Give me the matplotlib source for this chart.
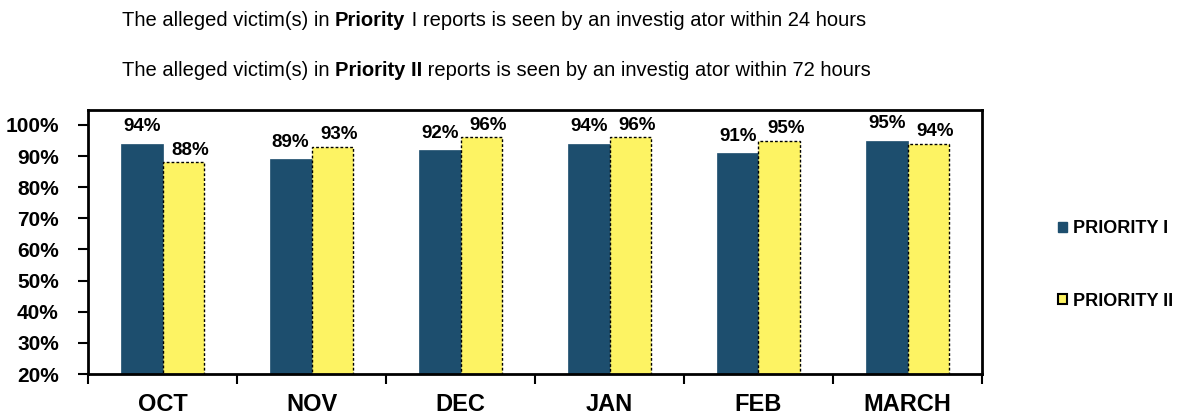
import matplotlib
matplotlib.use("Agg")
import matplotlib.pyplot as plt
import numpy as np
from matplotlib.patches import Patch

months = ["OCT", "NOV", "DEC", "JAN", "FEB", "MARCH"]
priority1 = [94, 89, 92, 94, 91, 95]
priority2 = [88, 93, 96, 96, 95, 94]
series_names = ["PRIORITY I", "PRIORITY II"]
yticks = [20, 30, 40, 50, 60, 70, 80, 90, 100]

BLUE = "#1D4E6E"
YELLOW = "#FDF363"
FONT = "Liberation Sans"

plt.rcParams["font.family"] = [FONT, "DejaVu Sans"]

fig = plt.figure(figsize=(11.91, 4.19), dpi=100)
ax = fig.add_axes([88/1191, 1-374/419, (982-88)/1191, (374-110)/419])

x = np.arange(len(months))
w = 0.28
ax.bar(x - w/2, priority1, w, color=BLUE, edgecolor=BLUE, linewidth=0.5, zorder=2)
ax.bar(x + w/2, priority2, w, color=YELLOW, edgecolor="black", linewidth=1.0,
       linestyle=(0, (2, 1.5)), zorder=2)

for xi, v in zip(x, priority1):
    ax.annotate(f"{v}%", (xi - w/2, v), xytext=(0, 12), textcoords="offset points",
                ha="center", va="center", fontsize=13.5, fontweight="bold")
for xi, v in zip(x, priority2):
    ax.annotate(f"{v}%", (xi + w/2, v), xytext=(5, 8.5), textcoords="offset points",
                ha="center", va="center", fontsize=13.5, fontweight="bold")

ax.set_xlim(-0.5, len(months) - 0.5)
ax.set_ylim(20, 104.8)
ax.set_yticks(yticks)
ax.set_yticklabels([f"{t}%" for t in yticks], fontsize=15, fontweight="bold")
ax.set_xticks(x)
ax.set_xticklabels(months, fontsize=17, fontweight="bold")
ax.tick_params(axis="x", length=0, pad=14)
ax.set_xticks(np.arange(len(months) + 1) - 0.5, minor=True)
ax.tick_params(axis="x", which="minor", length=7, width=1.5, direction="out")
ax.tick_params(axis="y", length=7, width=1.5, direction="out", pad=14)
for s in ax.spines.values():
    s.set_linewidth(2)

handles = [Patch(facecolor=BLUE, edgecolor=BLUE),
           Patch(facecolor=YELLOW, edgecolor="black", linewidth=1.5)]
fig.legend(handles, series_names, loc="center left",
           bbox_to_anchor=(1042/1191, 1-265/419), frameon=False,
           prop={"family": FONT, "weight": "bold", "size": 13},
           handlelength=0.5, handleheight=0.5, handletextpad=0.3,
           labelspacing=3.05)

hsize = 14.5

def header(y, pre, bold, post):
    t1 = fig.text(122/1191, 1 - y/419, pre, fontsize=hsize, va="center", ha="left")
    t2 = ax.annotate(bold, xy=(1, 0), xycoords=t1, va="bottom", ha="left",
                     fontsize=hsize, fontweight="bold", annotation_clip=False)
    ax.annotate(post, xy=(1, 0), xycoords=t2, va="bottom", ha="left",
                fontsize=hsize, annotation_clip=False)

header(20, "The alleged victim(s) in ", "Priority", " I reports is seen by an investig ator within 24 hours")
header(70, "The alleged victim(s) in ", "Priority II", " reports is seen by an investig ator within 72 hours")

fig.savefig("out.png", dpi=100)
